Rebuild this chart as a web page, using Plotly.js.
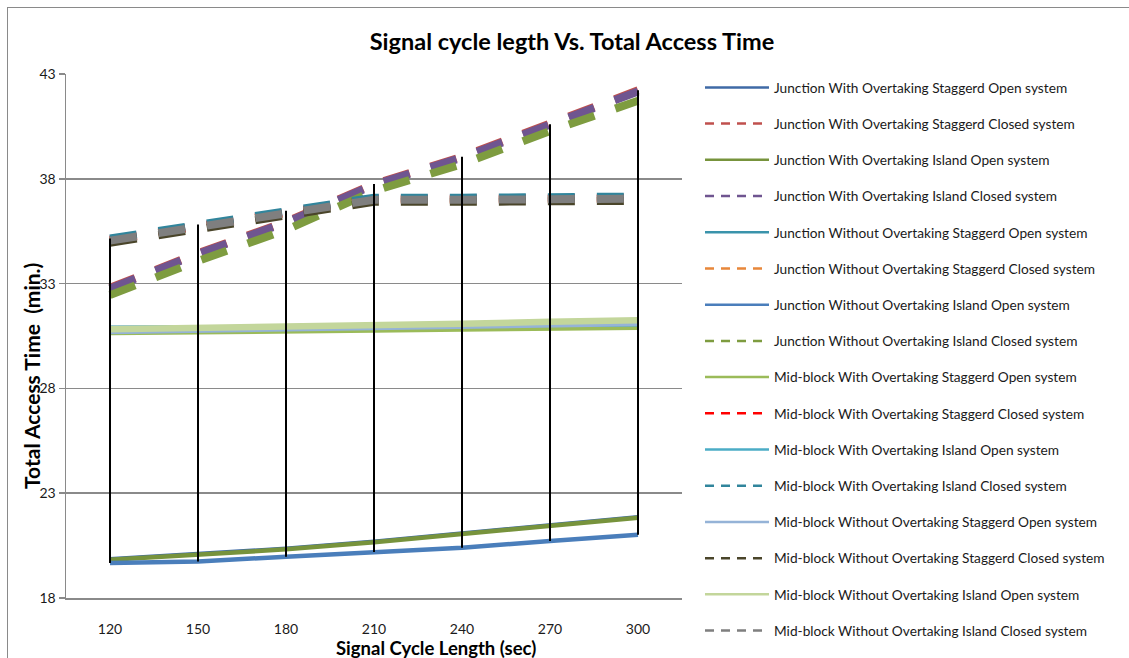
<!DOCTYPE html>
<html>
<head>
<meta charset="utf-8">
<script src="https://cdn.plot.ly/plotly-3.0.1.min.js"></script>
<style>
  html, body { margin: 0; padding: 0; background: #fff; }
  #wrap { position: relative; width: 1129px; height: 658px; overflow: hidden; }
  #chart { position: absolute; left: 0; top: 0; width: 1129px; height: 658px; }
  #frame { position: absolute; left: 7px; top: 7px; width: 1200px; height: 700px;
           border: 1px solid #8a8a8a; pointer-events: none; box-sizing: border-box; }
</style>
</head>
<body>
<div id="wrap"><div id="chart"></div><div id="frame"></div></div>
<script>
// ---- data ----
const cycles = ['120', '150', '180', '210', '240', '270', '300'];

const seriesNames = [
  'Junction With Overtaking Staggerd Open system',
  'Junction With Overtaking Staggerd Closed system',
  'Junction With Overtaking Island Open system',
  'Junction With Overtaking Island Closed system',
  'Junction Without Overtaking Staggerd Open system',
  'Junction Without Overtaking Staggerd Closed system',
  'Junction Without Overtaking Island Open system',
  'Junction Without Overtaking Island Closed system',
  'Mid-block With Overtaking Staggerd Open system',
  'Mid-block With Overtaking Staggerd Closed system',
  'Mid-block With Overtaking Island Open system',
  'Mid-block With Overtaking Island Closed system',
  'Mid-block Without Overtaking Staggerd Open system',
  'Mid-block Without Overtaking Staggerd Closed system',
  'Mid-block Without Overtaking Island Open system',
  'Mid-block Without Overtaking Island Closed system'
];

const junctionWithStaggerdOpen     = [19.86, 20.09, 20.36, 20.70, 21.08, 21.49, 21.87];
const junctionWithStaggerdClosed   = [32.80, 34.45, 35.95, 37.75, 39.05, 40.60, 42.22];
const junctionWithIslandOpen       = [19.82, 20.05, 20.32, 20.66, 21.04, 21.45, 21.83];
const junctionWithIslandClosed     = [32.76, 34.41, 35.91, 37.71, 39.01, 40.56, 42.16];
const junctionWithoutStaggerdOpen  = [30.93, 30.94, 30.95, 30.96, 30.97, 30.98, 30.99];
const junctionWithoutStaggerdClosed= [35.05, 35.72, 36.37, 37.00, 37.00, 37.02, 37.05];
const junctionWithoutIslandOpen    = [19.67, 19.74, 19.97, 20.20, 20.40, 20.72, 21.02];
const junctionWithoutIslandClosed  = [32.45, 34.08, 35.56, 37.42, 38.70, 40.28, 41.72];
const midWithStaggerdOpen          = [30.63, 30.66, 30.70, 30.75, 30.80, 30.85, 30.88];
const midWithStaggerdClosed        = [35.10, 35.77, 36.42, 37.05, 37.05, 37.07, 37.10];
const midWithIslandOpen            = [30.90, 30.92, 30.94, 30.96, 30.98, 31.00, 31.02];
const midWithIslandClosed          = [35.15, 35.82, 36.47, 37.10, 37.10, 37.12, 37.15];
const midWithoutStaggerdOpen       = [30.68, 30.74, 30.80, 30.87, 30.94, 31.00, 31.06];
const midWithoutStaggerdClosed     = [34.95, 35.62, 36.27, 36.90, 36.90, 36.92, 36.95];
const midWithoutIslandOpen         = [30.82, 30.87, 30.93, 31.00, 31.08, 31.18, 31.25];
const midWithoutIslandClosed       = [35.05, 35.72, 36.37, 37.00, 37.00, 37.02, 37.05];

const yTicks = [18, 23, 28, 33, 38, 43];

const seriesValues = [
  junctionWithStaggerdOpen, junctionWithStaggerdClosed, junctionWithIslandOpen, junctionWithIslandClosed,
  junctionWithoutStaggerdOpen, junctionWithoutStaggerdClosed, junctionWithoutIslandOpen, junctionWithoutIslandClosed,
  midWithStaggerdOpen, midWithStaggerdClosed, midWithIslandOpen, midWithIslandClosed,
  midWithoutStaggerdOpen, midWithoutStaggerdClosed, midWithoutIslandOpen, midWithoutIslandClosed
];

// ---- styles ----
const colors = [
  '#3f6aa6', '#c0504d', '#77933c', '#6f5590',
  '#3a93ab', '#e8873a', '#4a7ebb', '#7e9c40',
  '#9bbb59', '#ff0000', '#4bacc6', '#31859c',
  '#95b3d7', '#4a452a', '#c3d69b', '#7f7f7f'
];
const dashed = [false, true, false, true, false, true, false, true,
                false, true, false, true, false, true, false, true];
const widths = [4, 8, 4.5, 8, 3, 8, 4.5, 8, 4, 8, 3, 8, 4, 8, 6.5, 8];

const FONT = 'Lato, "Open Sans", "Liberation Sans", sans-serif';

const traces = [];
// plotted series
seriesValues.forEach((vals, i) => {
  traces.push({
    type: 'scatter', mode: 'lines', x: cycles, y: vals,
    name: seriesNames[i], showlegend: false, hoverinfo: 'x+y+name',
    line: { color: colors[i], width: widths[i], dash: dashed[i] ? '27px,22px' : 'solid' }
  });
});
// high-low lines (max to min across all series at each category)
const hlX = [], hlY = [];
cycles.forEach((c, k) => {
  const col = seriesValues.map(s => s[k]);
  hlX.push(c, c, null);
  hlY.push(Math.max(...col), Math.min(...col), null);
});
traces.push({
  type: 'scatter', mode: 'lines', x: hlX, y: hlY, showlegend: false,
  hoverinfo: 'skip', line: { color: '#000000', width: 2 }
});
// legend entries (thin sample lines, as in the reference legend)
seriesNames.forEach((n, i) => {
  traces.push({
    type: 'scatter', mode: 'lines', x: [null], y: [null], name: n,
    legendgroup: 'g' + i, showlegend: true,
    line: { color: colors[i], width: 2.5, dash: dashed[i] ? '9px,7px' : 'solid' }
  });
});

const layout = {
  width: 1129, height: 658,
  margin: { l: 66, r: 447, t: 74, b: 60, pad: 0 },
  paper_bgcolor: '#ffffff', plot_bgcolor: '#ffffff',
  font: { family: FONT, color: '#1a1a1a', size: 13 },
  title: {
    text: 'Signal cycle legth Vs. Total Access Time',
    font: { family: FONT, size: 23.5, color: '#000000', weight: 'bold' },
    xref: 'container', yref: 'container', x: 572 / 1129, xanchor: 'center',
    y: 1 - 42 / 658, yanchor: 'middle'
  },
  xaxis: {
    type: 'category', range: [-0.5, 6.5], showgrid: false, zeroline: false,
    showline: true, linecolor: '#8a8a8a', linewidth: 1.5,
    ticks: '', ticklabelstandoff: 18,
    tickfont: { family: FONT, size: 14, color: '#1a1a1a' },
    fixedrange: true
  },
  yaxis: {
    range: [18, 43], tickmode: 'array', tickvals: yTicks, ticktext: yTicks.map(String),
    showgrid: true, gridcolor: '#8a8a8a', gridwidth: 1.5, zeroline: false,
    showline: true, linecolor: '#8a8a8a', linewidth: 1.5,
    ticks: 'outside', ticklen: 6, tickcolor: '#8a8a8a', tickwidth: 1.5,
    tickfont: { family: FONT, size: 14, color: '#1a1a1a' },
    fixedrange: true
  },
  legend: {
    x: (700 - 66) / 616, xanchor: 'left', y: 1 + (74 - 72) / 524, yanchor: 'top',
    orientation: 'v', traceorder: 'grouped', tracegroupgap: 15.4,
    maxheight: 640,
    itemwidth: 64, font: { family: FONT, size: 13.7, color: '#1a1a1a' },
    bgcolor: 'rgba(0,0,0,0)'
  },
  annotations: [
    {
      text: 'Signal Cycle Length (sec)', showarrow: false,
      xref: 'paper', yref: 'paper', x: (436 - 66) / 616, y: -(648 - 598) / 524,
      xanchor: 'center', yanchor: 'middle',
      font: { family: FONT, size: 18.5, color: '#000000', weight: 'bold' }
    },
    {
      text: 'Total Access Time  (min.)', showarrow: false, textangle: -90,
      xref: 'paper', yref: 'paper', x: (31 - 66) / 616, y: 1 - (376 - 74) / 524,
      xanchor: 'center', yanchor: 'middle',
      font: { family: FONT, size: 21, color: '#000000', weight: 'bold' }
    }
  ],
  showlegend: true
};

Plotly.newPlot('chart', traces, layout, { displayModeBar: false, staticPlot: true });
</script>
</body>
</html>
